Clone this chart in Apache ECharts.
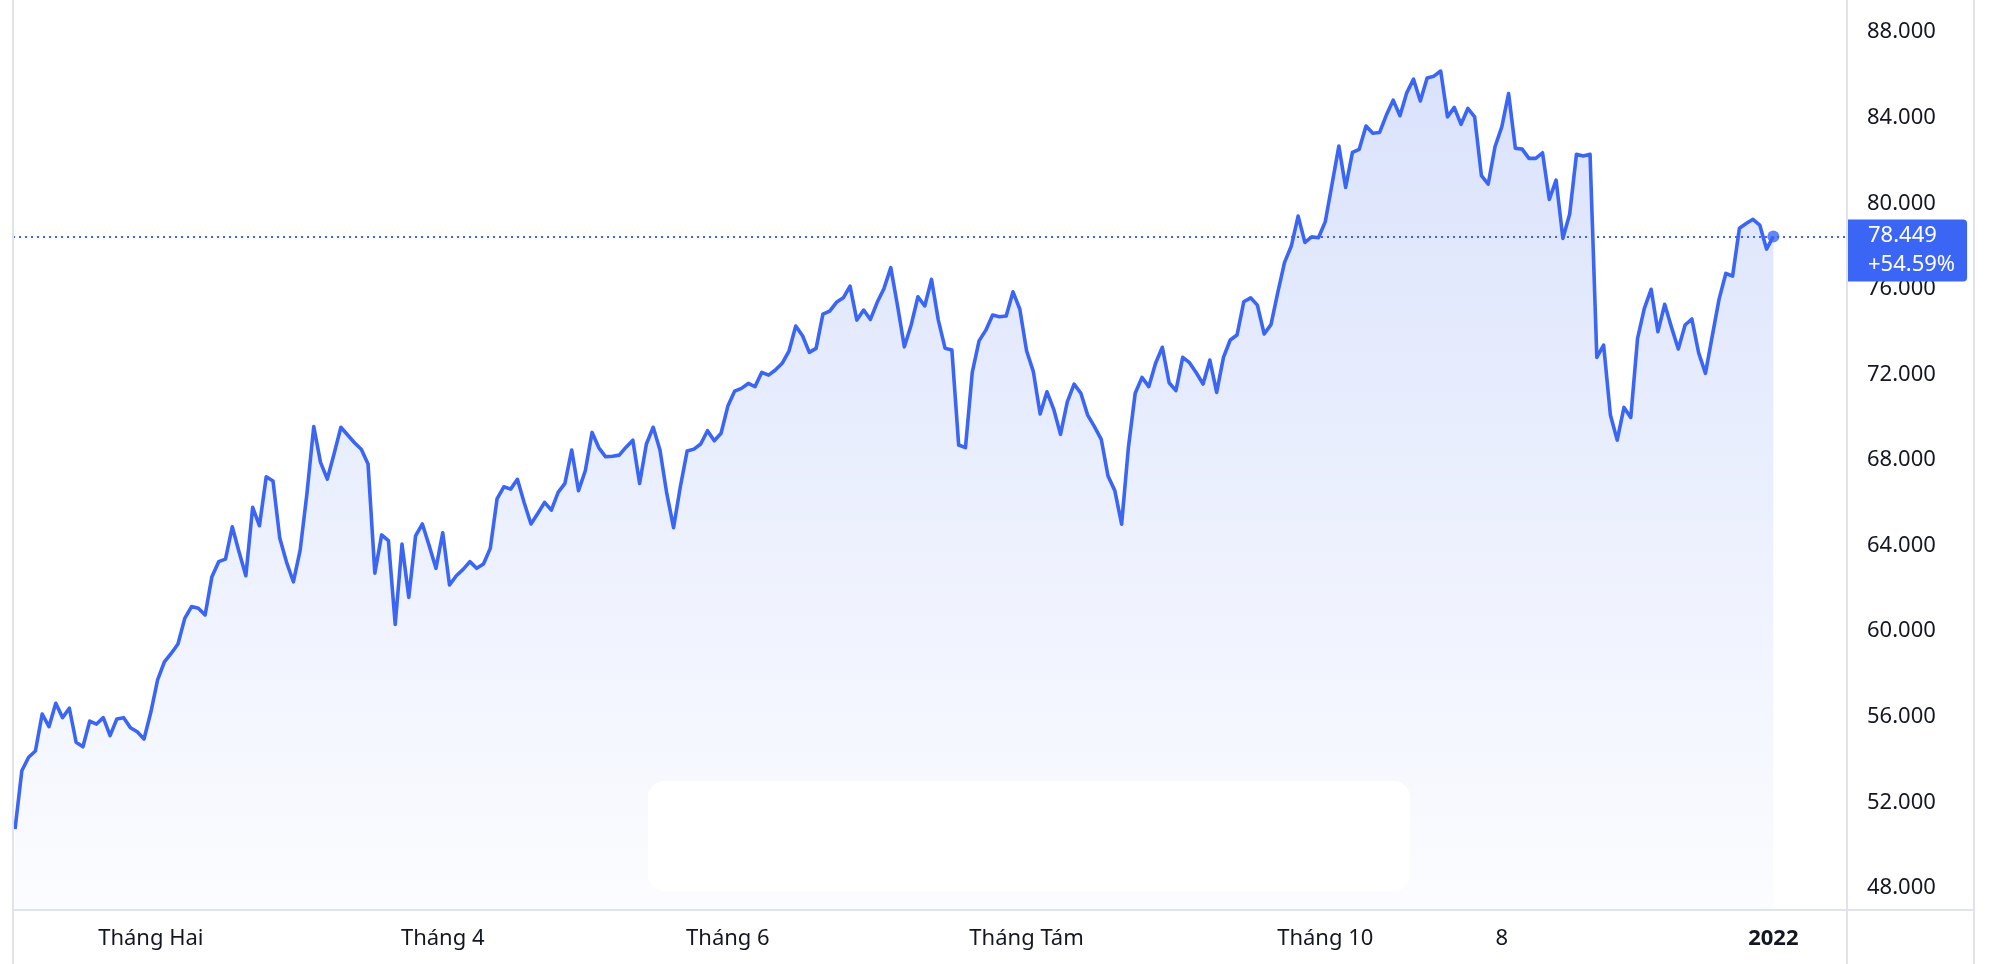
<!DOCTYPE html>
<html><head><meta charset="utf-8">
<script src="https://cdn.jsdelivr.net/npm/echarts@6/dist/echarts.min.js"></script>
<style>html,body{margin:0;padding:0;background:#fff}#c{width:1992px;height:964px}</style>
</head><body><div id="c"></div>
<script>
// Daily closing values (one per trading day, index 0 = first session)
const closeValues = [
  50.75, 53.48, 54.11, 54.40, 56.13, 55.54, 56.63, 55.96, 56.40, 54.81,
  54.60, 55.80, 55.66, 55.96, 55.12, 55.90, 55.96, 55.49, 55.30, 54.96,
  56.21, 57.72, 58.57, 58.96, 59.40, 60.60, 61.15, 61.07, 60.76, 62.55,
  63.25, 63.37, 64.88, 63.70, 62.59, 65.79, 64.93, 67.22, 67.02, 64.34,
  63.22, 62.31, 63.79, 66.44, 69.56, 67.89, 67.11, 68.30, 69.53, 69.17,
  68.81, 68.50, 67.81, 62.71, 64.50, 64.23, 60.32, 64.07, 61.58, 64.45,
  65.01, 64.00, 62.94, 64.60, 62.16, 62.59, 62.89, 63.25, 62.94, 63.14,
  63.87, 66.18, 66.75, 66.64, 67.10, 66.00, 65.01, 65.50, 66.02, 65.66,
  66.49, 66.91, 68.47, 66.57, 67.50, 69.29, 68.57, 68.15, 68.18, 68.23,
  68.60, 68.93, 66.91, 68.75, 69.53, 68.47, 66.44, 64.84, 66.75, 68.42,
  68.51, 68.75, 69.37, 68.90, 69.25, 70.52, 71.22, 71.35, 71.58, 71.43,
  72.10, 71.97, 72.21, 72.52, 73.09, 74.26, 73.81, 73.03, 73.22, 74.82,
  74.96, 75.37, 75.58, 76.13, 74.54, 75.01, 74.57, 75.37, 76.02, 76.99,
  75.20, 73.29, 74.31, 75.63, 75.20, 76.44, 74.54, 73.22, 73.14, 68.70,
  68.58, 72.10, 73.57, 74.07, 74.78, 74.70, 74.73, 75.86, 75.06, 73.11,
  72.13, 70.15, 71.19, 70.37, 69.20, 70.72, 71.55, 71.12, 70.10, 69.56,
  68.97, 67.25, 66.57, 65.00, 68.59, 71.12, 71.86, 71.43, 72.52, 73.27,
  71.61, 71.24, 72.80, 72.55, 72.08, 71.55, 72.67, 71.16, 72.80, 73.61,
  73.84, 75.40, 75.58, 75.24, 73.89, 74.33, 75.82, 77.24, 78.00, 79.40,
  78.17, 78.43, 78.39, 79.14, 80.90, 82.67, 80.74, 82.38, 82.52, 83.61,
  83.27, 83.31, 84.12, 84.82, 84.09, 85.16, 85.80, 84.78, 85.86, 85.94,
  86.18, 84.04, 84.48, 83.69, 84.43, 84.04, 81.29, 80.90, 82.64, 83.57,
  85.13, 82.57, 82.53, 82.10, 82.10, 82.36, 80.18, 81.08, 78.36, 79.50,
  82.29, 82.21, 82.29, 72.80, 73.37, 70.10, 68.93, 70.46, 69.99, 73.69,
  75.09, 75.98, 74.00, 75.28, 74.20, 73.19, 74.31, 74.59, 73.01, 72.05,
  73.79, 75.51, 76.72, 76.60, 78.83, 79.05, 79.25, 78.98, 77.86, 78.449
];
// Session index of each x-axis tick and its label
const xTickIndex  = [20, 63, 105, 149, 193, 219, 259];
const xTickLabels = ['Tháng Hai', 'Tháng 4', 'Tháng 6', 'Tháng Tám', 'Tháng 10', '8', '2022'];
const yTickValues = [48, 52, 56, 60, 64, 68, 72, 76, 80, 84, 88];
const changeText  = '+54.59%';

const FONT = 'Noto Sans';
const TEXT = '#131722';
const BLUE = '#3B66F5';
const BORDER = '#E0E3EB';

const seriesData = closeValues.map((v, i) => [i, v]);
const lastIdx = closeValues.length - 1;
const lastVal = closeValues[lastIdx];

const chart = echarts.init(document.getElementById('c'), null, {renderer: 'canvas'});
chart.setOption({
  animation: false,
  backgroundColor: '#ffffff',
  grid: {left: 13, right: 145, top: 0, bottom: 54, containLabel: false, outerBoundsMode: 'none'},
  xAxis: {
    type: 'value',
    min: -0.3, max: 269.85,
    axisLine: {show: false},
    axisTick: {show: false},
    splitLine: {show: false},
    axisLabel: {
      customValues: xTickIndex,
      margin: 18,
      fontFamily: FONT, fontSize: 22, color: TEXT,
      formatter: (v) => {
        const k = xTickIndex.indexOf(v);
        const t = k >= 0 ? xTickLabels[k] : '';
        return t === '2022' ? '{b|' + t + '}' : t;
      },
      rich: {b: {fontFamily: FONT, fontSize: 22, color: TEXT, fontWeight: 'bold'}}
    }
  },
  yAxis: {
    type: 'value',
    position: 'right',
    min: 46.97, max: 89.5,
    axisLine: {show: false},
    axisTick: {show: false},
    splitLine: {show: false},
    axisLabel: {
      customValues: yTickValues,
      margin: 20,
      align: 'left',
      fontFamily: FONT, fontSize: 22, color: TEXT,
      formatter: (v) => v.toFixed(3)
    }
  },
  series: [
    {
      type: 'line',
      data: seriesData,
      symbol: 'none',
      lineStyle: {color: BLUE, width: 3.6, join: 'round'},
      areaStyle: {
        color: new echarts.graphic.LinearGradient(0, 0, 0, 910, [
          {offset: 0, color: 'rgb(198,211,250)'},
          {offset: 1, color: 'rgb(250,251,255)'}
        ], true)
      },
      markLine: {
        silent: true,
        symbol: 'none',
        lineStyle: {color: BLUE, width: 2, type: [2, 4]},
        label: {
          show: true,
          position: 'end',
          distance: 0,
          offset: [0, 14],
          backgroundColor: BLUE,
          borderRadius: [0, 4, 4, 0],
          padding: [2, 12, 2, 21],
          formatter: () => '{a|' + lastVal.toFixed(3) + '}\n{a|' + changeText + '}',
          rich: {a: {color: '#ffffff', fontFamily: FONT, fontSize: 22, lineHeight: 29, align: 'left'}}
        },
        data: [{yAxis: lastVal}]
      }
    },
    {
      type: 'scatter',
      data: [[lastIdx, lastVal]],
      symbol: 'circle',
      symbolSize: 12,
      itemStyle: {color: BLUE},
      z: 5
    }
  ],
  graphic: [
    {type: 'rect', z: 100, shape: {x: 648, y: 781, width: 762, height: 110, r: 16}, style: {fill: '#ffffff'}},
    {type: 'line', z: 110, shape: {x1: 13, y1: 0, x2: 13, y2: 964}, style: {stroke: BORDER, lineWidth: 2}},
    {type: 'line', z: 110, shape: {x1: 1847, y1: 0, x2: 1847, y2: 964}, style: {stroke: BORDER, lineWidth: 2}},
    {type: 'line', z: 110, shape: {x1: 1974, y1: 0, x2: 1974, y2: 964}, style: {stroke: BORDER, lineWidth: 2}},
    {type: 'line', z: 110, shape: {x1: 13, y1: 910, x2: 1974, y2: 910}, style: {stroke: BORDER, lineWidth: 2}}
  ]
});
</script>
</body></html>
